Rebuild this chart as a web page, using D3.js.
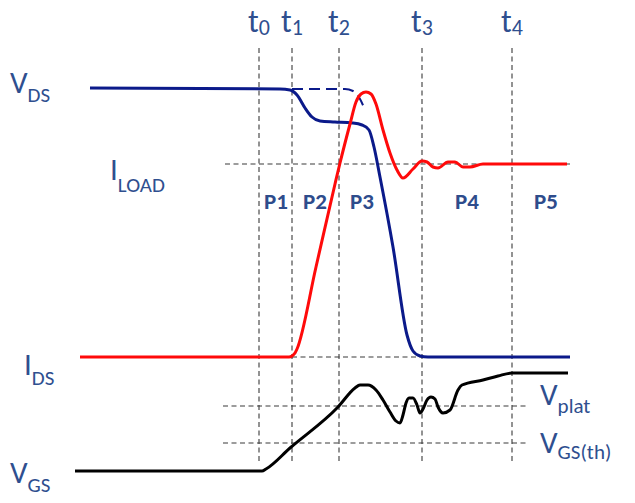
<!DOCTYPE html>
<html>
<head>
<meta charset="utf-8">
<script src="https://cdn.jsdelivr.net/npm/d3@7"></script>
<style>
  html, body { margin: 0; padding: 0; background: #fff; }
  svg { display: block; }
  text { font-family: Carlito, Calibri, Lato, "Open Sans", sans-serif; }
</style>
</head>
<body>
<svg id="chart" width="635" height="503"></svg>
<script>
// Switching waveforms of a MOSFET turn-on transition.
// Time runs along x (arbitrary units), signal level along y (arbitrary units).

// Switching instants t0..t4
const instantNames = ["0", "1", "2", "3", "4"];
const instantTimes = [189, 222, 269, 352, 442];

// Interval labels and their centre times
const phaseNames = ["P1", "P2", "P3", "P4", "P5"];
const phaseTimes = [206, 245, 292, 397, 476];

// Reference levels
const levelILoad = 316;
const levelIdsLow = 123;
const levelVplat = 74;
const levelVth = 37;

// Drain-source voltage
const vdsTime  = [20, 210, 220, 227, 235, 242, 250, 265, 282, 292, 299, 304, 310, 323, 337, 343, 350, 358, 500];
const vdsLevel = [392, 391, 390, 385, 372, 363, 359, 358, 357, 355, 350, 333, 303, 233, 145, 129, 124, 123, 123];

// Drain-source voltage without Miller plateau (reference, dashed)
const vdsRefTime  = [222, 275, 283, 290, 295];
const vdsRefLevel = [391, 391, 389, 381, 370];

// Drain current
const idsTime  = [10, 219, 222, 225, 227, 246, 265, 270, 280, 286, 291, 296, 301, 306, 313, 320, 327, 333, 343, 352, 357, 363, 368, 378, 385, 393, 400, 413, 497];
const idsLevel = [123, 123, 124, 127, 131, 213, 296, 317, 356, 378, 386, 388, 386, 376, 350, 327, 310, 302, 311, 319, 318, 313, 312, 318, 318, 313, 313, 316, 316];

// Gate-source voltage
const vgsTime  = [5, 192, 196, 220, 268, 285, 290, 298, 306, 313, 320, 326, 330, 333, 336, 339, 343, 347, 350, 353, 357, 361, 365, 368, 373, 380, 388, 392, 413, 428, 442, 498];
const vgsLevel = [9, 9, 11, 32, 73, 92, 95, 95, 90, 80, 68, 59, 57, 65, 77, 82, 82, 75, 67, 71, 80, 83, 81, 73, 67, 70, 90, 95, 100, 104, 107, 107];

// Extents of the dashed guide lines (time units)
const gridTop = 432, gridBottom = 17;
const guideILoad = [155, 500];
const guideIdsLow = [222, 500];
const guideVgs = [153, 457];

const svg = d3.select("#chart");

const x = d3.scaleLinear().domain([0, 500]).range([70, 570]);
const y = d3.scaleLinear().domain([0, 400]).range([480, 80]);

const labelColor = "#2F4F8F";
const phaseColor = "#2E4C8C";
const gridColor = "#3a3a3a";

const zip = (ts, vs) => ts.map((t, i) => [t, vs[i]]);
const line = d3.line()
  .x(d => x(d[0]))
  .y(d => y(d[1]))
  .curve(d3.curveMonotoneX);

// Dashed guides
const grid = svg.append("g")
  .attr("stroke", gridColor)
  .attr("stroke-width", 1.1)
  .attr("stroke-dasharray", "5,3.5")
  .attr("fill", "none");

grid.selectAll("line.v")
  .data(instantTimes)
  .join("line")
  .attr("class", "v")
  .attr("x1", d => x(d)).attr("x2", d => x(d))
  .attr("y1", y(gridTop)).attr("y2", y(gridBottom));

const hGuides = [
  [levelILoad, guideILoad],
  [levelIdsLow, guideIdsLow],
  [levelVplat, guideVgs],
  [levelVth, guideVgs]
];
grid.selectAll("line.h")
  .data(hGuides)
  .join("line")
  .attr("class", "h")
  .attr("x1", d => x(d[1][0])).attr("x2", d => x(d[1][1]))
  .attr("y1", d => y(d[0])).attr("y2", d => y(d[0]));

// Waveforms
svg.append("path")
  .datum(zip(vdsRefTime, vdsRefLevel))
  .attr("d", line)
  .attr("fill", "none")
  .attr("stroke", "#0B1A8A")
  .attr("stroke-width", 2)
  .attr("stroke-dasharray", "11,6");

svg.append("path")
  .datum(zip(vgsTime, vgsLevel))
  .attr("d", line)
  .attr("fill", "none")
  .attr("stroke", "#000")
  .attr("stroke-width", 3)
  .attr("stroke-linejoin", "round");

svg.append("path")
  .datum(zip(vdsTime, vdsLevel))
  .attr("d", line)
  .attr("fill", "none")
  .attr("stroke", "#0B1A8A")
  .attr("stroke-width", 3)
  .attr("stroke-linejoin", "round");

svg.append("path")
  .datum(zip(idsTime, idsLevel))
  .attr("d", line)
  .attr("fill", "none")
  .attr("stroke", "#FF0A0A")
  .attr("stroke-width", 3)
  .attr("stroke-linejoin", "round");

// Text with subscript helper
function subLabel(px, py, main, sub, size, subSize, dy) {
  const t = svg.append("text")
    .attr("x", px).attr("y", py)
    .attr("fill", labelColor)
    .attr("font-size", size);
  t.append("tspan").text(main);
  t.append("tspan").attr("dy", dy).attr("font-size", subSize).text(sub);
  return t;
}

// Instant labels
instantNames.forEach((n, i) => {
  subLabel(x(instantTimes[i]) - 11, 32, "t", n, 32, 22, 3);
});

// Phase labels
svg.selectAll("text.phase")
  .data(phaseNames)
  .join("text")
  .attr("class", "phase")
  .attr("x", (d, i) => x(phaseTimes[i]))
  .attr("y", 209)
  .attr("text-anchor", "middle")
  .attr("font-size", 23)
  .attr("font-weight", "bold")
  .attr("fill", phaseColor)
  .text(d => d);

// Signal labels
subLabel(10, 93, "V", "DS", 31, 21, 9);
subLabel(110, 180, "I", "LOAD", 31, 21, 12);
subLabel(24, 375, "I", "DS", 31, 21, 10);
subLabel(10, 483, "V", "GS", 31, 21, 9);
subLabel(540, 405, "V", "plat", 31, 21, 8);
subLabel(540, 453, "V", "GS(th)", 31, 21, 6);
</script>
</body>
</html>
